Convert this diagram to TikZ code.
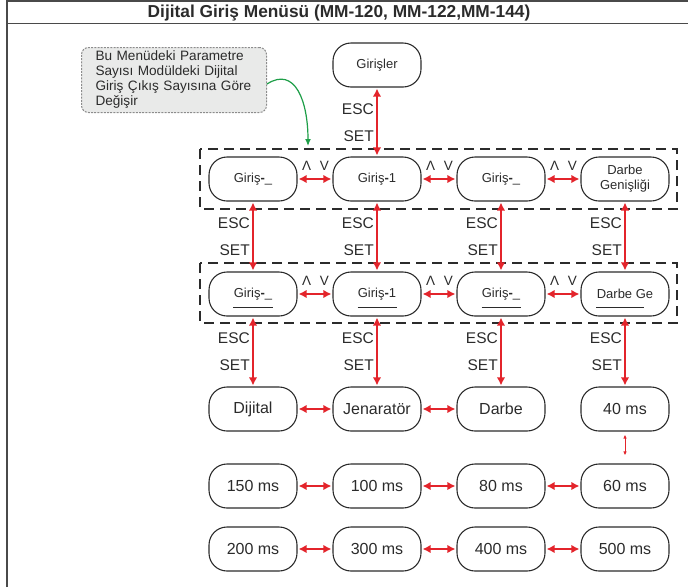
\documentclass[tikz,border=0pt]{standalone}
\usepackage{fontspec}
\setmainfont{Liberation Sans}
\usetikzlibrary{arrows.meta,positioning,calc}
\definecolor{ink}{HTML}{2B2B2B}
\definecolor{frame}{HTML}{4A4A4A}
\definecolor{keyred}{HTML}{E3242B}
\definecolor{notefill}{HTML}{E9EAE9}
\definecolor{notegray}{HTML}{8C8C8C}
\definecolor{hintgreen}{HTML}{1E9E48}
\tikzset{
  menu/.style={draw=ink, rounded corners=18pt, line width=1.1pt, minimum width=88pt,
               minimum height=44pt, inner sep=2pt, align=center, text=ink,
               font=\fontsize{13}{15}\selectfont},
  value/.style={menu, font=\fontsize{16}{18}\selectfont},
  keyarrow/.style={{Latex[length=8pt,width=8.5pt]}-{Latex[length=8pt,width=8.5pt]},
                   line width=1.7pt, draw=keyred, shorten <=1pt, shorten >=1pt},
  thinarrow/.style={{Latex[length=4pt,width=3.5pt]}-{Latex[length=4pt,width=3.5pt]},
                    line width=0.8pt, draw=keyred},
  keylbl/.style={font=\fontsize{15.5}{17}\selectfont, text=ink, anchor=east, inner sep=0pt},
  updn/.style={font=\fontsize{13.5}{15}\selectfont, text=ink, inner sep=0pt},
  groupbox/.style={draw=ink, dash pattern=on 10pt off 6pt, line width=1.8pt},
  notebox/.style={draw=notegray, fill=notefill, dash pattern=on 2pt off 1.2pt,
                  line width=1pt, rounded corners=7pt, align=left, text=ink,
                  font=\fontsize{13.6}{15}\selectfont, text width=157pt,
                  inner xsep=14pt, minimum height=65pt},
  hint/.style={draw=hintgreen, line width=1.2pt, -{Latex[length=7pt,width=6pt]}},
  underl/.style={draw=ink, line width=1pt}
}
\begin{document}
\begin{tikzpicture}[x=1pt,y=-1pt]
  \useasboundingbox (0,0) rectangle (688,587);
  % frame and title
  \draw[frame,line width=1.4pt] (7,587) -- (7,1) -- (688,1);
  \draw[frame,line width=1.4pt] (7,23.5) -- (688,23.5);
  \node[font=\bfseries\fontsize{17.3}{19}\selectfont,text=ink] (title) at (339,13)
    {Dijital Giriş Menüsü (MM-120, MM-122,MM-144)};

  % group frames
  \draw[groupbox] (200,149) rectangle (677,209);
  \draw[groupbox] (200,263) rectangle (677,323);

  \node[notebox,anchor=north west] (note) at (81,47)
    {Bu Menüdeki Parametre\\Sayısı Modüldeki Dijital\\Giriş Çıkış Sayısına Göre\\Değişir};
  \coordinate (gtip) at (308,146);
  \draw[hint] ([yshift=-4pt]note.east) .. controls +(28,-18) and +(0,-45) .. (gtip);

  \node[menu] (giris) at (377,65) {Girişler};
  \foreach \txt [count=\i] in {Giriş\textbf{-}\_, Giriş\textbf{-}1, Giriş\textbf{-}\_, {Darbe\\Genişliği}}
    \node[menu] (a\i) at ({129+124*\i},179) {\txt};
  \foreach \txt [count=\i] in {Giriş\textbf{-}\_, Giriş\textbf{-}1, Giriş\textbf{-}\_, Darbe Ge}
    \node[menu] (b\i) at ({129+124*\i},294) {\txt};
  \foreach \txt [count=\i] in {Dijital, Jenaratör, Darbe, 40 ms}
    \node[value] (c\i) at ({129+124*\i},409) {\txt};
  \foreach \txt [count=\i] in {150 ms, 100 ms, 80 ms, 60 ms}
    \node[value] (d\i) at ({129+124*\i},486) {\txt};
  \foreach \txt [count=\i] in {200 ms, 300 ms, 400 ms, 500 ms}
    \node[value] (e\i) at ({129+124*\i},549) {\txt};

  % cursor lines
  \foreach \i/\w/\dx in {1/40/0, 2/39/0, 3/39/0, 4/48/-5}
    \draw[underl] ([xshift=\dx pt-\w pt/2,yshift=-13pt]b\i.center) -- ([xshift=\dx pt+\w pt/2,yshift=-13pt]b\i.center);

  % ESC / SET
  \foreach \from/\to in {giris/a2, a1/b1, a2/b2, a3/b3, a4/b4, b1/c1, b2/c2, b3/c3, b4/c4} {
    \draw[keyarrow] (\from.south) -- (\to.north);
    \node[keylbl] (esc\from) at ($(\from.south)+(-3,22)$) {ESC};
    \node[keylbl] (set\from) at ($(\from.south)+(-3,49)$) {SET};
  }

  % up / down
  \foreach \r in {a,b}
    \foreach \i/\j in {1/2,2/3,3/4} {
      \draw[keyarrow] (\r\i.east) -- (\r\j.west);
      \node[updn] (up\r\i) at ($(\r\i.east)+(9,-13)$) {Λ};
      \node[updn] (dn\r\i) at ($(\r\j.west)+(-8,-13)$) {V};
    }
  \foreach \r in {d,e}
    \foreach \i/\j in {1/2,2/3,3/4}
      \draw[keyarrow] (\r\i.east) -- (\r\j.west);
  \draw[keyarrow] (c1.east) -- (c2.west);
  \draw[keyarrow] (c2.east) -- (c3.west);
  \draw[thinarrow,shorten <=3pt,shorten >=8pt] (c4.south) -- (d4.north);
\end{tikzpicture}
\end{document}
